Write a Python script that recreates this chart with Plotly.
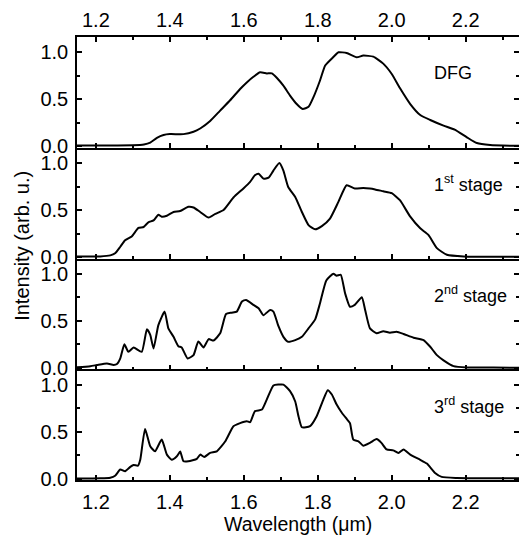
import plotly.graph_objects as go
from plotly.subplots import make_subplots

# ---- data ----
dfg_x = [1.149, 1.20, 1.30, 1.33, 1.347, 1.365, 1.383, 1.40, 1.437, 1.464, 1.482, 1.509, 1.536,
         1.563, 1.59, 1.608, 1.626, 1.644, 1.662, 1.676, 1.689, 1.707, 1.725, 1.743, 1.759,
         1.775, 1.788, 1.806, 1.82, 1.842, 1.856, 1.878, 1.905, 1.923, 1.95, 1.977, 2.0,
         2.022, 2.05, 2.077, 2.104, 2.14, 2.17, 2.203, 2.23, 2.266, 2.344]
dfg_y = [0.01, 0.01, 0.012, 0.02, 0.04, 0.09, 0.12, 0.13, 0.13, 0.155, 0.19, 0.27, 0.38,
         0.49, 0.61, 0.68, 0.74, 0.787, 0.776, 0.776, 0.73, 0.645, 0.54, 0.45, 0.397,
         0.42, 0.52, 0.70, 0.86, 0.95, 1.0, 0.993, 0.947, 0.965, 0.954, 0.88, 0.77,
         0.62, 0.45, 0.333, 0.28, 0.22, 0.177, 0.096, 0.035, 0.014, 0.005]

s1_x = [1.149, 1.212, 1.239, 1.252, 1.266, 1.279, 1.297, 1.315, 1.329, 1.342, 1.356, 1.369,
        1.378, 1.392, 1.41, 1.428, 1.45, 1.464, 1.482, 1.505, 1.523, 1.545, 1.572, 1.599,
        1.617, 1.63, 1.64, 1.653, 1.667, 1.68, 1.696, 1.707, 1.72, 1.739, 1.757, 1.775,
        1.793, 1.811, 1.833, 1.856, 1.878, 1.90, 1.923, 1.941, 1.955, 1.977, 2.0, 2.022,
        2.05, 2.077, 2.099, 2.122, 2.149, 2.194, 2.344]
s1_y = [0.007, 0.007, 0.018, 0.04, 0.11, 0.18, 0.22, 0.31, 0.32, 0.37, 0.39, 0.45,
        0.43, 0.44, 0.48, 0.49, 0.535, 0.528, 0.48, 0.42, 0.46, 0.50, 0.634, 0.73,
        0.80, 0.87, 0.887, 0.835, 0.845, 0.92, 1.0, 0.92, 0.746, 0.64, 0.48, 0.34,
        0.296, 0.33, 0.41, 0.59, 0.764, 0.73, 0.736, 0.73, 0.72, 0.70, 0.68, 0.605,
        0.43, 0.306, 0.236, 0.095, 0.025, 0.007, 0.004]

s2_x = [1.149, 1.185, 1.203, 1.23, 1.248, 1.257, 1.266, 1.277, 1.288, 1.302, 1.324, 1.338,
        1.347, 1.356, 1.369, 1.386, 1.396, 1.41, 1.423, 1.432, 1.448, 1.464, 1.477, 1.491,
        1.505, 1.518, 1.536, 1.552, 1.567, 1.581, 1.595, 1.606, 1.626, 1.64, 1.653, 1.671,
        1.68, 1.694, 1.707, 1.72, 1.739, 1.757, 1.775, 1.793, 1.806, 1.823, 1.842, 1.851,
        1.862, 1.874, 1.887, 1.90, 1.919, 1.928, 1.941, 1.959, 1.977, 1.995, 2.013, 2.032,
        2.059, 2.086, 2.104, 2.122, 2.14, 2.167, 2.203, 2.275, 2.344]
s2_y = [0.007, 0.018, 0.03, 0.046, 0.03, 0.04, 0.10, 0.25, 0.17, 0.217, 0.17, 0.41,
        0.35, 0.206, 0.455, 0.598, 0.42, 0.33, 0.23, 0.217, 0.10, 0.135, 0.28, 0.217,
        0.306, 0.29, 0.367, 0.573, 0.587, 0.598, 0.705, 0.722, 0.67, 0.633, 0.56, 0.616,
        0.598, 0.44, 0.33, 0.277, 0.295, 0.33, 0.42, 0.516, 0.687, 0.93, 1.0, 0.98,
        0.99, 0.79, 0.65, 0.67, 0.75, 0.616, 0.42, 0.367, 0.39, 0.374, 0.384, 0.36,
        0.32, 0.295, 0.224, 0.135, 0.08, 0.018, 0.004, 0.004, 0.0]

s3_x = [1.149, 1.212, 1.239, 1.252, 1.266, 1.279, 1.293, 1.302, 1.314, 1.32, 1.333, 1.347,
        1.36, 1.378, 1.392, 1.405, 1.419, 1.428, 1.437, 1.45, 1.473, 1.482, 1.493, 1.509,
        1.527, 1.55, 1.572, 1.59, 1.608, 1.617, 1.63, 1.649, 1.662, 1.68, 1.694, 1.707,
        1.725, 1.739, 1.748, 1.757, 1.779, 1.797, 1.815, 1.827, 1.838, 1.851, 1.865, 1.878,
        1.887, 1.896, 1.91, 1.923, 1.941, 1.959, 1.972, 1.986, 2.004, 2.018, 2.032, 2.05,
        2.077, 2.095, 2.117, 2.135, 2.176, 2.344]
s3_y = [0.0, 0.003, 0.01, 0.03, 0.096, 0.078, 0.124, 0.145, 0.138, 0.20, 0.528, 0.344,
        0.29, 0.415, 0.255, 0.20, 0.237, 0.287, 0.184, 0.184, 0.21, 0.255, 0.23, 0.273,
        0.29, 0.397, 0.557, 0.59, 0.61, 0.60, 0.716, 0.734, 0.84, 0.99, 1.0, 1.0,
        0.93, 0.82, 0.66, 0.546, 0.557, 0.663, 0.84, 0.94, 0.894, 0.787, 0.70, 0.635,
        0.59, 0.415, 0.397, 0.35, 0.38, 0.42, 0.38, 0.31, 0.30, 0.273, 0.31, 0.255,
        0.20, 0.16, 0.06, 0.018, 0.007, 0.003]

series = [(dfg_x, dfg_y, "DFG"),
          (s1_x, s1_y, "1<sup>st</sup> stage"),
          (s2_x, s2_y, "2<sup>nd</sup> stage"),
          (s3_x, s3_y, "3<sup>rd</sup> stage")]

x_ticks = [1.2, 1.4, 1.6, 1.8, 2.0, 2.2]
x_tick_text = ["1.2", "1.4", "1.6", "1.8", "2.0", "2.2"]
y_ticks = [0.0, 0.5, 1.0]
y_tick_text = ["0.0", "0.5", "1.0"]

XR = [1.149, 2.344]
YR = [-0.015, 1.163]
FONT = "Liberation Sans, Arial, sans-serif"

fig = make_subplots(rows=4, cols=1, shared_xaxes=True, vertical_spacing=0)

for i, (xs, ys, lab) in enumerate(series, start=1):
    fig.add_trace(go.Scatter(x=xs, y=ys, mode="lines",
                             line=dict(color="black", width=2, shape="spline", smoothing=0.5),
                             showlegend=False),
                  row=i, col=1)
    fig.add_annotation(x=2.11, y=0.78, xref=f"x{'' if i == 1 else i}",
                       yref=f"y{'' if i == 1 else i}", text=lab, showarrow=False,
                       xanchor="left", yanchor="middle",
                       font=dict(family=FONT, size=18, color="black"))

axis_common = dict(showline=True, linecolor="black", linewidth=1.5,
                   ticks="inside", tickcolor="black", tickwidth=1.5,
                   showgrid=False, zeroline=False, automargin=False,
                   tickfont=dict(family=FONT, size=20, color="black"))

for i in range(1, 5):
    fig.update_xaxes(range=XR, tickvals=x_ticks, ticktext=x_tick_text, ticklen=5,
                     minor=dict(dtick=0.1, tick0=1.1, ticks="inside", ticklen=3,
                                tickcolor="black", tickwidth=1.5),
                     showticklabels=(i == 4), ticklabelstandoff=3,
                     **axis_common, row=i, col=1)
    fig.update_yaxes(range=YR, tickvals=y_ticks, ticktext=y_tick_text, ticklen=5,
                     minor=dict(dtick=0.25, tick0=0, ticks="inside", ticklen=3,
                                tickcolor="black", tickwidth=1.5),
                     mirror="ticks", ticklabelstandoff=3,
                     **axis_common, row=i, col=1)

# top axis with labels
fig.update_layout(xaxis5=dict(overlaying="x", anchor="y", side="top", range=XR,
                              tickvals=x_ticks, ticktext=x_tick_text, ticklen=5,
                              minor=dict(dtick=0.1, tick0=1.1, ticks="inside", ticklen=3,
                                         tickcolor="black", tickwidth=1.5),
                              ticklabelstandoff=0, **axis_common))
fig.add_trace(go.Scatter(x=[None], y=[None], xaxis="x5", yaxis="y", showlegend=False))

fig.add_annotation(xref="paper", yref="paper", x=-0.125, y=0.528, text="Intensity (arb. u.)",
                   textangle=-90, showarrow=False, xanchor="center", yanchor="middle",
                   font=dict(family=FONT, size=20, color="black"))
fig.add_annotation(xref="paper", yref="paper", x=0.5, y=-0.099, text="Wavelength (\u03bcm)",
                   showarrow=False, xanchor="center", yanchor="middle",
                   font=dict(family=FONT, size=19.5, color="black"))

fig.update_layout(width=519, height=538, margin=dict(l=77, r=0, t=37, b=58, autoexpand=False),
                  plot_bgcolor="white", paper_bgcolor="white",
                  font=dict(family=FONT, color="black"))

fig.write_html("out.html", config={"displayModeBar": False},
               post_script="document.body.style.margin='0';document.body.style.overflow='hidden';")
